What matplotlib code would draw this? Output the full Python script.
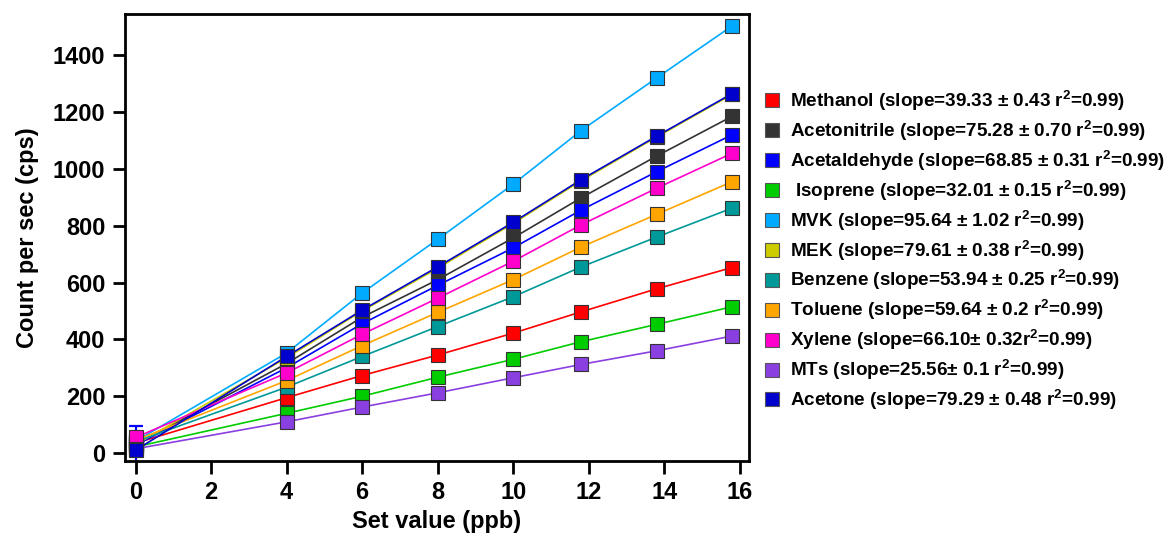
import numpy as np
import matplotlib
matplotlib.use('Agg')
import matplotlib.pyplot as plt
from matplotlib.lines import Line2D

plt.rcParams['font.family'] = ['Liberation Sans', 'DejaVu Sans']
plt.rcParams['font.weight'] = 'bold'
plt.rcParams['mathtext.fontset'] = 'custom'
plt.rcParams['mathtext.rm'] = 'Liberation Sans:bold'
plt.rcParams['mathtext.bf'] = 'Liberation Sans:bold'

# set values (ppb)
setv = [0, 4, 6, 8, 10, 11.8, 13.8, 15.8]

names = ['Methanol', 'Acetonitrile', 'Acetaldehyde', ' Isoprene', 'MVK', 'MEK',
         'Benzene', 'Toluene', 'Xylene', 'MTs', 'Acetone']
slopes = ['39.33 \u00b1 0.43 ', '75.28 \u00b1 0.70 ', '68.85 \u00b1 0.31 ', '32.01 \u00b1 0.15 ',
          '95.64 \u00b1 1.02 ', '79.61 \u00b1 0.38 ', '53.94 \u00b1 0.25 ', '59.64 \u00b1 0.2 ',
          '66.10\u00b1 0.32', '25.56\u00b1 0.1 ', '79.29 \u00b1 0.48 ']
colors = ['#FF0000', '#333333', '#0000FF', '#00CC00', '#00AAFF', '#CCCC00',
          '#009999', '#FFA500', '#FF00CC', '#8A3FE0', '#0000CC']

methanol     = [35, 195, 273, 345, 422, 497, 578, 653]
acetonitrile = [30, 315, 478, 610, 757, 898, 1045, 1185]
acetaldehyde = [28, 300, 455, 590, 722, 855, 990, 1120]
isoprene     = [22, 140, 200, 267, 330, 392, 453, 515]
mvk          = [42, 352, 563, 752, 946, 1135, 1320, 1503]
mek          = [30, 335, 500, 650, 808, 958, 1112, 1262]
benzene      = [40, 232, 340, 445, 550, 655, 760, 862]
toluene      = [45, 255, 378, 495, 610, 725, 840, 955]
xylene       = [55, 282, 418, 545, 675, 803, 932, 1055]
mts          = [15, 110, 162, 212, 265, 312, 360, 412]
acetone      = [10, 340, 503, 655, 812, 962, 1115, 1265]
series = [methanol, acetonitrile, acetaldehyde, isoprene, mvk, mek,
          benzene, toluene, xylene, mts, acetone]

# error at the zero point only
err0 = [10, 8, 68, 8, 10, 8, 10, 15, 20, 8, 10]

fig = plt.figure(figsize=(11.72, 5.38), dpi=100)
ax = fig.add_axes([0.1066, 0.143, 0.5326, 0.831])

for i, y in enumerate(series):
    ax.plot(setv, y, color=colors[i], lw=1.2, marker='s', ms=10,
            mfc=colors[i], mec='#333333', mew=0.8, zorder=2 + i * 0.01)
    ax.errorbar([setv[0]], [y[0]], yerr=[err0[i]], color=colors[i], lw=1.6,
                capsize=5, capthick=1.6, fmt='none', zorder=1.9)

ax.set_xlim(-0.28, 16.25)
ax.set_ylim(-28, 1545)
ax.set_xticks(np.arange(0, 17, 2))
ax.set_yticks(np.arange(0, 1401, 200))
ax.tick_params(direction='out', length=9, width=2, labelsize=17, pad=5)
for s in ax.spines.values():
    s.set_linewidth(2)
ax.set_xlabel('Set value (ppb)', fontsize=17, fontweight='bold', labelpad=5)
ax.set_ylabel('Count per sec (cps)', fontsize=17, fontweight='bold', labelpad=10)

handles = [Line2D([], [], marker='s', ls='None', ms=10, mfc=colors[i],
                  mec='#555555', mew=0.8, color=colors[i],
                  label=names[i] + ' (slope=' + slopes[i] + r'r$^{2}$=0.99)')
           for i in range(len(names))]
fig.legend(handles=handles, loc='upper left', bbox_to_anchor=(0.643, 0.85),
           frameon=False, fontsize=13.6, handletextpad=0.45, labelspacing=0.27,
           handlelength=1.1, borderaxespad=0)

fig.savefig('out.png', dpi=100)
